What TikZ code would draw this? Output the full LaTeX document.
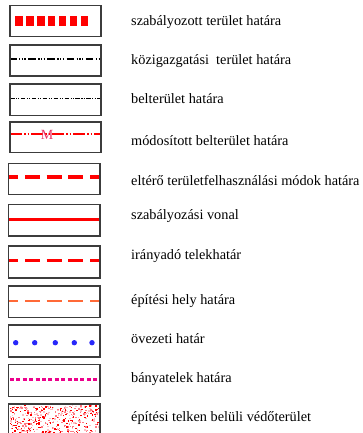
\documentclass[tikz,border=0pt]{standalone}
\usepackage{fontspec}
\setmainfont{Liberation Serif}
\definecolor{boxgray}{RGB}{60,60,60}
\definecolor{mred}{RGB}{232,50,100}
\definecolor{orng}{RGB}{255,105,55}
\definecolor{dotblue}{RGB}{40,40,250}
\definecolor{sp0}{RGB}{255,0,0}
\definecolor{sp1}{RGB}{255,120,130}
\definecolor{sp2}{RGB}{255,190,195}
\begin{document}
\begin{tikzpicture}[x=1pt,y=-1pt,
  box/.style={draw=boxgray, line width=1.3pt},
  lbl/.style={anchor=base west, font=\fontsize{14.3}{16}\selectfont, inner sep=0pt},
  reddash/.style={red, dash pattern=on 15pt off 6.7pt, dash phase=5.2pt}
]
\useasboundingbox (0,0) rectangle (363,433);
\clip (0,0) rectangle (363,433);

% 1 szabalyozott terulet hatara
\foreach \cx in {19,30,41,51.7,62.3,73.3,84.3}
  \fill[red] (\cx-3.6,16.3) rectangle (\cx+3.6,25.7);
\draw[box] (10,5.5) rectangle (101,36.5);
\node[lbl] (t1) at (131,26) {szabályozott terület határa};

% 2 kozigazgatasi
\draw[black, line width=1.6pt, dash pattern=on 7.5pt off 2.5pt on 1.3pt off 1.4pt on 1.3pt off 1.4pt on 1.3pt off 2.5pt, dash phase=1pt] (10,59.3) -- (101,59.3);
\draw[box] (10,45) rectangle (101,76);
\node[lbl] (t2) at (131,64.3) {közigazgatási\ \ terület határa};

% 3 belterulet
\draw[black, line width=1.1pt, dash pattern=on 4.5pt off 1.5pt on 1.1pt off 1.2pt on 1.1pt off 1.5pt] (10,98.3) -- (101,98.3);
\draw[box] (10,84) rectangle (101,115.5);
\node[lbl] (t3) at (131,103.3) {belterület határa};

% 4 modositott belterulet
\draw[red, line width=2.2pt, dash pattern=on 12pt off 2pt on 1.5pt off 2pt on 1.5pt off 2pt] (10,134.3) -- (101,134.3);
\node[text=mred, font=\fontsize{14}{14}\selectfont, inner sep=0pt] (m) at (47.2,135.2) {M};
\draw[box] (10,122) rectangle (101,152.5);
\node[lbl] (t4) at (131,145.7) {módosított belterület határa};

% 5 eltero teruletfelhasznalasi
\draw[reddash, line width=4pt] (8.5,176.7) -- (100,176.7);
\draw[box] (8.5,163.5) rectangle (100,194.5);
\node[lbl] (t5) at (131,185) {eltérő területfelhasználási módok határa};

% 6 szabalyozasi vonal
\draw[red, line width=3pt] (8.5,219) -- (100,219);
\draw[box] (8.5,204.5) rectangle (100,236);
\node[lbl] (t6) at (131,219.5) {szabályozási vonal};

% 7 iranyado telekhatar
\draw[reddash, line width=3.5pt] (8.5,260.7) -- (100,260.7);
\draw[box] (8.5,246) rectangle (100,278);
\node[lbl] (t7) at (131,259.5) {irányadó telekhatár};

% 8 epitesi hely hatara
\draw[reddash, orng, line width=1.8pt] (8.5,300.7) -- (100,300.7);
\draw[box] (8.5,286) rectangle (100,317.5);
\node[lbl] (t8) at (131,304) {építési hely határa};

% 9 ovezeti hatar
\foreach \cx in {15.7,34.7,55.3,74.3,92}
  \fill[dotblue] (\cx,342.7) circle (2.7);
\draw[box] (8.5,325) rectangle (100,357);
\node[lbl] (t9) at (131,343.3) {övezeti határ};

% 10 banyatelek hatara
\draw[magenta, line width=3pt, dash pattern=on 4pt off 2.4pt] (10,379.3) -- (100,379.3);
\draw[box] (8.5,364.5) rectangle (100,396.5);
\node[lbl] (t10) at (131,382.7) {bányatelek határa};

% 11 epitesi telken beluli vedoterulet
\pgfmathsetseed{4242}
\foreach \i in {1,...,430} {
  \pgfmathsetmacro\rx{9.5+88.5*rnd}
  \pgfmathsetmacro\ry{405+28*rnd}
  \pgfmathtruncatemacro\k{3*rnd}
  \fill[sp\k] (\rx,\ry) rectangle ++(1.5,1.3);
}
\draw[box, line width=1.8pt] (8.5,404) rectangle (100,440);
\node[lbl] (t11) at (131,421.7) {építési telken belüli védőterület};
\end{tikzpicture}
\end{document}
